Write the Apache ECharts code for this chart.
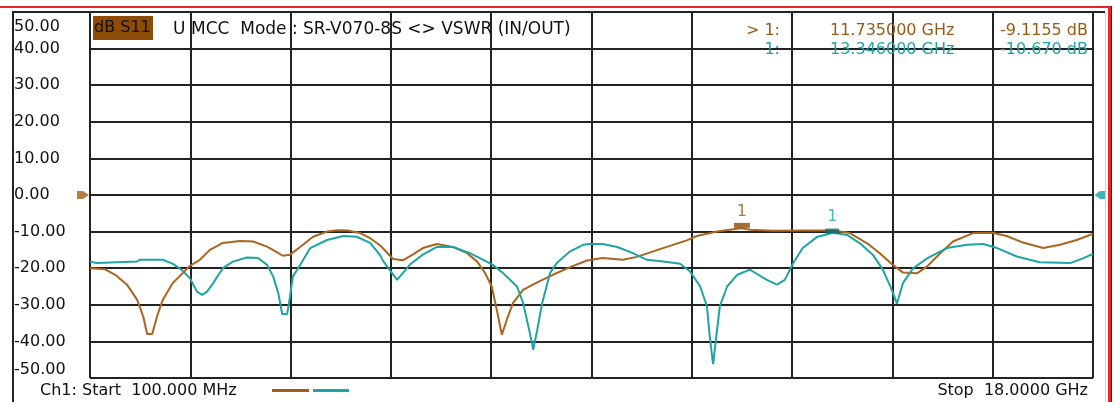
<!DOCTYPE html>
<html><head><meta charset="utf-8">
<script src="https://cdn.jsdelivr.net/npm/echarts@6/dist/echarts.min.js"></script>
<style>html,body{margin:0;padding:0;background:#fff;}#c{width:1115px;height:402px;}</style>
</head><body><div id="c"></div>
<script>
// ---- data (GHz, dB) ----
const freqBrown = [0.10,0.37,0.55,0.76,0.94,1.05,1.12,1.21,1.30,1.40,1.58,1.88,2.06,2.24,2.47,2.78,3.01,3.26,3.44,3.54,3.67,3.85,4.08,4.33,4.51,4.70,4.92,5.10,5.28,5.51,5.69,5.86,6.04,6.29,6.58,6.83,7.01,7.15,7.27,7.36,7.45,7.54,7.65,7.83,8.08,8.36,8.67,8.97,9.25,9.61,9.86,10.15,10.45,10.75,10.93,11.29,11.65,11.735,11.88,12.29,12.90,13.36,13.66,13.97,14.20,14.43,14.61,14.86,15.04,15.27,15.50,15.86,16.21,16.46,16.75,17.11,17.41,17.71,18.00];
const dbBrown = [-20.0,-20.3,-21.8,-24.5,-28.6,-33.2,-38.0,-38.0,-33.0,-28.6,-24.0,-19.4,-17.7,-15.0,-13.1,-12.6,-12.7,-14.1,-15.7,-16.6,-16.3,-14.2,-11.4,-10.0,-9.6,-9.7,-10.4,-11.8,-13.8,-17.5,-17.8,-16.3,-14.5,-13.4,-14.2,-15.9,-18.2,-21.3,-25.0,-31.4,-38.2,-34.0,-29.5,-25.9,-23.9,-21.8,-19.7,-17.9,-17.2,-17.7,-16.9,-15.4,-13.9,-12.4,-11.2,-10.0,-9.2,-9.1,-9.5,-9.8,-9.7,-9.7,-10.4,-13.2,-16.0,-19.1,-21.2,-21.4,-19.5,-16.0,-12.7,-10.4,-10.3,-11.2,-13.0,-14.5,-13.6,-12.3,-10.6];
const freqTeal = [0.10,0.22,0.94,0.99,1.40,1.58,1.74,1.88,2.01,2.10,2.19,2.30,2.47,2.65,2.90,3.10,3.26,3.37,3.46,3.53,3.62,3.67,3.72,3.85,4.03,4.33,4.62,4.86,5.10,5.28,5.33,5.58,5.81,6.04,6.29,6.58,6.88,7.18,7.29,7.47,7.72,7.83,7.95,8.01,8.08,8.17,8.31,8.43,8.67,8.90,9.02,9.25,9.51,9.79,10.04,10.33,10.63,10.81,10.99,11.11,11.16,11.22,11.29,11.34,11.47,11.65,11.88,11.93,12.18,12.36,12.50,12.65,12.82,13.07,13.36,13.61,13.84,14.07,14.25,14.41,14.50,14.61,14.79,15.04,15.39,15.75,16.04,16.29,16.64,17.05,17.59,17.82,18.00];
const dbTeal = [-18.2,-18.6,-18.2,-17.7,-17.7,-18.8,-20.5,-22.7,-26.4,-27.3,-26.4,-24.0,-20.0,-18.2,-17.1,-17.2,-19.1,-22.3,-26.8,-32.5,-32.5,-27.7,-22.3,-19.1,-14.5,-12.3,-11.2,-11.4,-13.1,-16.5,-18.0,-23.2,-19.0,-16.3,-14.2,-14.2,-15.9,-18.2,-19.1,-21.3,-25.0,-29.5,-37.7,-42.3,-37.0,-29.5,-21.3,-18.6,-15.4,-13.6,-13.4,-13.4,-14.2,-15.9,-17.7,-18.2,-18.8,-20.9,-25.0,-30.4,-38.6,-46.2,-37.0,-30.4,-25.0,-21.8,-20.4,-20.9,-23.2,-24.5,-23.2,-18.6,-14.5,-11.5,-10.3,-10.9,-13.2,-16.3,-20.4,-25.9,-29.7,-24.0,-20.0,-17.3,-14.5,-13.6,-13.4,-14.5,-16.8,-18.4,-18.6,-17.3,-16.1];
const markerBrown = [11.735, -9.1155];
const markerTeal = [13.346, -10.670];
const yTicks = [50,40,30,20,10,0,-10,-20,-30,-40,-50];
const freqStartGHz = 0.1, freqStopGHz = 18.0;

const BROWN = '#AA6620', TEAL = '#1FA3A3', TXT_BROWN = '#9A5A14', GRIDC = '#222';
const FONT = 'DejaVu Sans';
const F16 = '16px "DejaVu Sans"';
const F17 = '17px "DejaVu Sans"';

const chart = echarts.init(document.getElementById('c'), null, {renderer: 'canvas'});
const pairs = (xs, ys) => xs.map((x, i) => [x, ys[i]]);

chart.setOption({
  animation: false,
  backgroundColor: '#fff',
  grid: {left: 90, top: 12, width: 1003, height: 366, containLabel: false},
  xAxis: [
    {type: 'value', min: freqStartGHz, max: freqStopGHz, show: false},
    {type: 'value', min: 0, max: 10, interval: 1, position: 'bottom',
     axisLine: {show: false}, axisTick: {show: false}, axisLabel: {show: false},
     splitLine: {show: true, lineStyle: {color: GRIDC, width: 2}}}
  ],
  yAxis: {
    type: 'value', min: -50, max: 50, interval: 10,
    axisLine: {show: false}, axisTick: {show: false},
    splitLine: {show: true, lineStyle: {color: GRIDC, width: 2}},
    axisLabel: {
      margin: 76, align: 'left', color: '#111', fontFamily: FONT, fontSize: 16,
      formatter: v => yTicks.includes(v) ? (v === 50 ? '{t|' + v.toFixed(2) + '}' : (v === -50 ? '{b|' + v.toFixed(2) + '}' : v.toFixed(2))) : '',
      rich: {
        t: {padding: [30, 0, 0, 0], color: '#111', fontFamily: FONT, fontSize: 16},
        b: {padding: [0, 0, 16, 0], color: '#111', fontFamily: FONT, fontSize: 16}
      }
    }
  },
  series: [
    {type: 'line', name: 'brown', xAxisIndex: 0, data: pairs(freqBrown, dbBrown), showSymbol: false,
     lineStyle: {color: BROWN, width: 2}, itemStyle: {color: BROWN}, z: 3},
    {type: 'line', name: 'teal', xAxisIndex: 0, data: pairs(freqTeal, dbTeal), showSymbol: false,
     lineStyle: {color: TEAL, width: 2}, itemStyle: {color: TEAL}, z: 4},
    {type: 'scatter', xAxisIndex: 0, data: [markerBrown], symbol: 'rect', symbolSize: [16, 5], symbolOffset: [0, -3],
     itemStyle: {color: '#8C4A08'}, z: 6,
     label: {show: true, position: 'top', distance: 3, formatter: '1', color: TXT_BROWN, fontFamily: FONT, fontSize: 16}},
    {type: 'scatter', xAxisIndex: 0, data: [markerTeal], symbol: 'rect', symbolSize: [14, 5], symbolOffset: [0, -3],
     itemStyle: {color: '#0E6F6F'}, z: 6,
     label: {show: true, position: 'top', distance: 4, formatter: '1', color: TEAL, fontFamily: FONT, fontSize: 16}},
    {type: 'scatter', xAxisIndex: 0, clip: false, data: [[freqStartGHz, 0]],
     symbol: 'path://M0,0 L6,0 L12,5 L6,10 L0,10 Z', symbolSize: [12, 8], symbolOffset: [-7, 0],
     itemStyle: {color: '#A45E14'}, z: 6},
    {type: 'scatter', xAxisIndex: 0, clip: false, data: [[freqStopGHz, 0]],
     symbol: 'path://M12,0 L6,0 L0,5 L6,10 L12,10 Z', symbolSize: [11, 8], symbolOffset: [7, 0],
     itemStyle: {color: '#17A0A0'}, z: 6}
  ],
  graphic: [
    {type: 'rect', shape: {x: 0, y: 6, width: 1112, height: 2}, style: {fill: '#E8262A'}, z: 10},
    {type: 'rect', shape: {x: 1108, y: 6, width: 3, height: 396}, style: {fill: '#E8262A'}, z: 10},
    {type: 'rect', shape: {x: 1111, y: 6, width: 1, height: 396}, style: {fill: '#6a1010'}, z: 10},
    {type: 'line', shape: {x1: 1105.5, y1: 12, x2: 1105.5, y2: 402}, style: {stroke: '#cfcfcf', lineWidth: 1}, z: 9},
    {type: 'line', shape: {x1: 12, y1: 12, x2: 1105, y2: 12}, style: {stroke: GRIDC, lineWidth: 2}, z: 9},
    {type: 'line', shape: {x1: 13, y1: 12, x2: 13, y2: 402}, style: {stroke: GRIDC, lineWidth: 2}, z: 9},
    {type: 'rect', shape: {x: 93, y: 16, width: 60, height: 24}, style: {fill: '#8C4B06'}, z: 1},
    {type: 'text', x: 94, y: 28, style: {text: 'dB S11', font: F16, fill: '#111', textVerticalAlign: 'middle'}, z: 2},
    {type: 'text', x: 173, y: 30, style: {text: 'U', font: F17, fill: '#111', textVerticalAlign: 'middle'}, z: 2},
    {type: 'text', x: 191, y: 30, style: {text: 'MCC  Mode : SR-V070-8S <> VSWR (IN/OUT)', font: F17, fill: '#111', textVerticalAlign: 'middle'}, z: 2},
    {type: 'text', x: 780, y: 31, style: {text: '> 1:', font: F16, fill: TXT_BROWN, textAlign: 'right', textVerticalAlign: 'middle'}, z: 2},
    {type: 'text', x: 830, y: 31, style: {text: '11.735000 GHz', font: F16, fill: TXT_BROWN, textVerticalAlign: 'middle'}, z: 2},
    {type: 'text', x: 1088, y: 31, style: {text: '-9.1155 dB', font: F16, fill: TXT_BROWN, textAlign: 'right', textVerticalAlign: 'middle'}, z: 2},
    {type: 'text', x: 780, y: 50, style: {text: '1:', font: F16, fill: TEAL, textAlign: 'right', textVerticalAlign: 'middle'}, z: 2},
    {type: 'text', x: 830, y: 50, style: {text: '13.346000 GHz', font: F16, fill: TEAL, textVerticalAlign: 'middle'}, z: 2},
    {type: 'text', x: 1088, y: 50, style: {text: '-10.670 dB', font: F16, fill: TEAL, textAlign: 'right', textVerticalAlign: 'middle'}, z: 2},
    {type: 'text', x: 40, y: 391, style: {text: 'Ch1: Start  100.000 MHz', font: F16, fill: '#111', textVerticalAlign: 'middle'}, z: 2},
    {type: 'text', x: 1088, y: 391, style: {text: 'Stop  18.0000 GHz', font: F16, fill: '#111', textAlign: 'right', textVerticalAlign: 'middle'}, z: 2},
    {type: 'rect', shape: {x: 272, y: 389, width: 37, height: 3}, style: {fill: '#A45E14'}, z: 2},
    {type: 'rect', shape: {x: 313, y: 389, width: 36, height: 3}, style: {fill: TEAL}, z: 2}
  ]
});
</script></body></html>
